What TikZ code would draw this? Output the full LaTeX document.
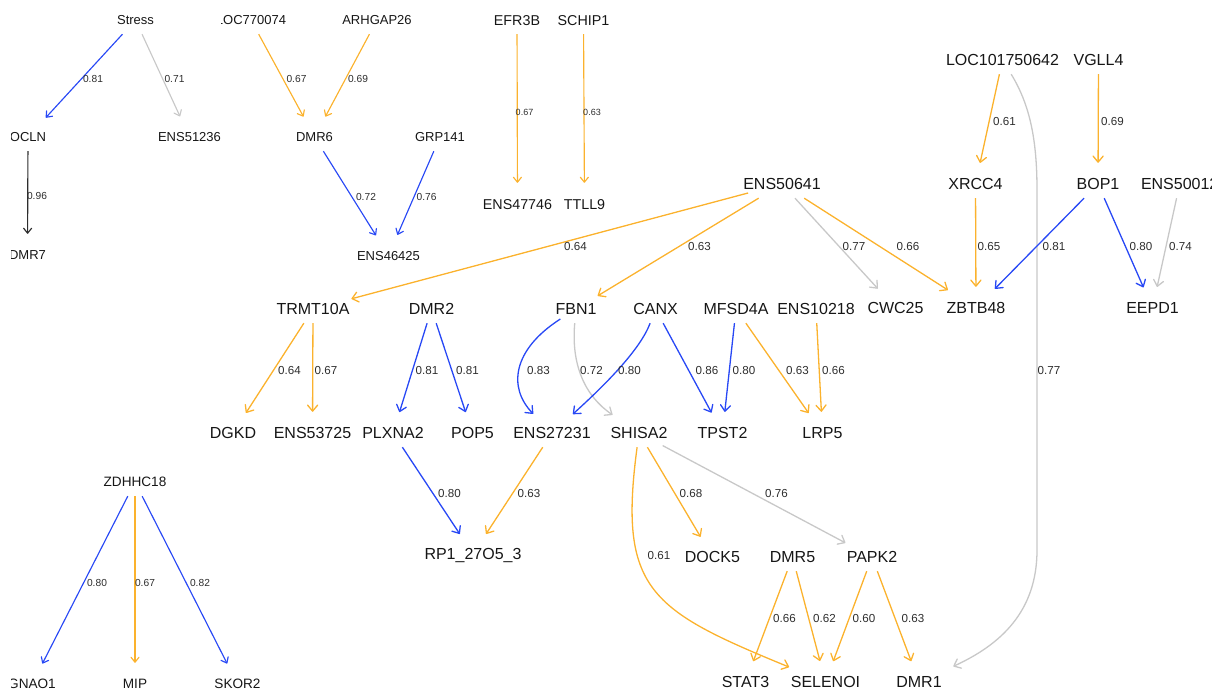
\documentclass[tikz,border=0pt]{standalone}
\usepackage{fontspec}
\setmainfont{Liberation Sans}
\usetikzlibrary{arrows.meta}

\definecolor{eorange}{RGB}{251,178,45}
\definecolor{eblue}{RGB}{40,72,245}
\definecolor{egray}{RGB}{200,200,200}
\definecolor{edark}{RGB}{45,45,45}
\definecolor{txt}{RGB}{22,22,22}
\definecolor{ltxt}{RGB}{45,45,45}

\tikzset{
  vtx/.style={rectangle, inner xsep=-5pt, inner ysep=0pt, minimum height=28pt,
              text depth=0pt, text=txt},
  big/.style={vtx, text height=11.5pt, font=\fontsize{16}{18}\selectfont},
  mid/.style={vtx, text height=10.3pt, font=\fontsize{14.3}{16}\selectfont},
  sml/.style={vtx, text height=9.4pt, font=\fontsize{13}{15}\selectfont},
  zsm/.style={vtx, text height=9.8pt, font=\fontsize{13.6}{15}\selectfont},
  lab/.style={inner sep=0pt, text=ltxt, font=\fontsize{11.6}{13}\selectfont},
  labs/.style={inner sep=0pt, text=ltxt, font=\fontsize{10.2}{12}\selectfont},
  labxs/.style={inner sep=0pt, text=ltxt, font=\fontsize{9}{11}\selectfont},
  lnk/.style={line width=1.3pt, -{Straight Barb[length=6pt,width=10pt,round]}, shorten >=7pt},
  lnks/.style={line width=1.15pt, -{Straight Barb[length=5pt,width=8pt,round]}, shorten >=7pt},
  orangeln/.style={draw=eorange},
  blueln/.style={draw=eblue},
  grayln/.style={draw=egray},
  darkln/.style={draw=edark},
}

\begin{document}
\begin{tikzpicture}[x=1pt, y=-1pt]
\useasboundingbox (0,0) rectangle (1226,690);

% ---------- nodes cut by the left edge of their panel ----------
\begin{scope}
  \clip (11,0) rectangle (215,690);
  \node[sml] (ocln) at (28,137) {OCLN};
  \node[sml] (dmr7) at (27.5,255) {DMR7};
  \node[zsm] (gnao1) at (32,684) {GNAO1};
\end{scope}
\begin{scope}
  \clip (221,0) rectangle (300,40);
  \node[sml] (loc770074) at (251,20) {LOC770074};
\end{scope}
\begin{scope}
  \clip (1100,150) rectangle (1211,220);
  \node[big] (ens50012) at (1179.7,184) {ENS50012};
\end{scope}

% ---------- small panels ----------
\node[sml] (stress) at (135.5,20) {Stress};
\node[sml] (ens51236) at (189.5,137) {ENS51236};
\node[sml] (arhgap26) at (377,20) {ARHGAP26};
\node[sml] (dmr6) at (314.5,137) {DMR6};
\node[sml] (grp141) at (440,137) {GRP141};
\node[sml] (ens46425) at (388.5,255.5) {ENS46425};

\node[mid] (efr3b) at (517,20) {EFR3B};
\node[mid] (schip1) at (583.5,20) {SCHIP1};
\node[mid] (ens47746) at (517.5,204) {ENS47746};
\node[mid] (ttll9) at (584.5,204) {TTLL9};

\node[zsm] (zdhhc18) at (135,482) {ZDHHC18};
\node[zsm] (mip) at (135,684) {MIP};
\node[zsm] (skor2) at (237.5,684) {SKOR2};

% ---------- main network ----------
\node[big] (loc101750642) at (1002.5,60) {LOC101750642};
\node[big] (vgll4) at (1098.5,60) {VGLL4};
\node[big] (ens50641) at (782,184) {ENS50641};
\node[big] (xrcc4) at (975.5,184) {XRCC4};
\node[big] (bop1) at (1098,184) {BOP1};

\node[big] (trmt10a) at (313,309) {TRMT10A};
\node[big] (dmr2) at (431.5,309) {DMR2};
\node[big] (fbn1) at (576,309) {FBN1};
\node[big] (canx) at (655.5,309) {CANX};
\node[big] (mfsd4a) at (736,309) {MFSD4A};
\node[big] (ens10218) at (816,309) {ENS10218};
\node[big] (cwc25) at (895.5,308) {CWC25};
\node[big] (zbtb48) at (976,308) {ZBTB48};
\node[big] (eepd1) at (1152.5,308) {EEPD1};

\node[big] (dgkd) at (233,433) {DGKD};
\node[big] (ens53725) at (312.5,433) {ENS53725};
\node[big] (plxna2) at (393,433) {PLXNA2};
\node[big] (pop5) at (472.5,433) {POP5};
\node[big] (ens27231) at (552,433) {ENS27231};
\node[big] (shisa2) at (639,433) {SHISA2};
\node[big] (tpst2) at (722.5,433) {TPST2};
\node[big] (lrp5) at (822.5,433) {LRP5};

\node[big] (rp1) at (473,554) {RP1\_27O5\_3};
\node[big] (dock5) at (712.5,557) {DOCK5};
\node[big] (dmr5) at (792.5,557) {DMR5};
\node[big] (papk2) at (872,557) {PAPK2};

\node[big] (stat3) at (745.5,682) {STAT3};
\node[big] (selenoi) at (825.5,682) {SELENOI};
\node[big] (dmr1) at (919,682) {DMR1};

% ---------- small panel links ----------
\draw[lnks, blueln] (stress) -- (ocln);
\draw[lnks, grayln] (stress) -- (ens51236);
\draw[lnks, darkln] (ocln) -- (dmr7);
\draw[lnks, orangeln] (loc770074) -- (dmr6);
\draw[lnks, orangeln] (arhgap26) -- (dmr6);
\draw[lnks, blueln] (dmr6) -- (ens46425);
\draw[lnks, blueln] (grp141) -- (ens46425);
\draw[lnks, orangeln] (efr3b) -- (ens47746);
\draw[lnks, orangeln] (schip1) -- (ttll9);
\draw[lnks, blueln] (zdhhc18) -- (gnao1);
\draw[lnks, orangeln] (zdhhc18) -- (mip);
\draw[lnks, blueln] (zdhhc18) -- (skor2);

\node[labs] (w1) at (93,79) {0.81};
\node[labs] (w2) at (174.5,79) {0.71};
\node[labs] (w3) at (37,196) {0.96};
\node[labs] (w4) at (296.5,79) {0.67};
\node[labs] (w5) at (358,79) {0.69};
\node[labs] (w6) at (366,197) {0.72};
\node[labs] (w7) at (426.5,197) {0.76};
\node[labxs] (w8) at (524.5,112) {0.67};
\node[labxs] (w9) at (592,112) {0.63};
\node[labs] (w10) at (97,583) {0.80};
\node[labs] (w11) at (145,583) {0.67};
\node[labs] (w12) at (200,583) {0.82};

% ---------- main network links ----------
\draw[lnk, orangeln] (ens50641) -- (trmt10a);
\draw[lnk, orangeln] (ens50641) -- (fbn1);
\draw[lnk, grayln] (ens50641) -- (cwc25);
\draw[lnk, orangeln] (ens50641) -- (zbtb48);
\draw[lnk, orangeln] (loc101750642) -- (xrcc4);
\draw[lnk, grayln, shorten >=18pt] (loc101750642)
   .. controls (1030,105) and (1037,140) .. (1037,190)
   -- (1037,550)
   .. controls (1037,612) and (1000,645) .. (dmr1);
\draw[lnk, orangeln] (vgll4) -- (bop1);
\draw[lnk, orangeln] (xrcc4) -- (zbtb48);
\draw[lnk, blueln] (bop1) -- (zbtb48);
\draw[lnk, blueln] (bop1) -- (eepd1);
\draw[lnk, grayln] (ens50012) -- (eepd1);

\draw[lnk, orangeln] (trmt10a) -- (dgkd);
\draw[lnk, orangeln] (trmt10a) -- (ens53725);
\draw[lnk, blueln] (dmr2) -- (plxna2);
\draw[lnk, blueln] (dmr2) -- (pop5);
\draw[lnk, blueln] (fbn1) .. controls (512,350) and (508,388) .. (ens27231);
\draw[lnk, grayln] (fbn1) .. controls (571,365) and (585,396) .. (shisa2);
\draw[lnk, blueln] (canx) .. controls (640,350) and (605,385) .. (ens27231);
\draw[lnk, blueln] (canx) -- (tpst2);
\draw[lnk, blueln] (mfsd4a) -- (tpst2);
\draw[lnk, orangeln] (mfsd4a) -- (lrp5);
\draw[lnk, orangeln] (ens10218) -- (lrp5);

\draw[lnk, blueln] (plxna2) -- (rp1);
\draw[lnk, orangeln] (ens27231) -- (rp1);
\draw[lnk, orangeln] (shisa2) .. controls (618,590) and (650,610) .. (selenoi);
\draw[lnk, orangeln] (shisa2) -- (dock5);
\draw[lnk, grayln] (shisa2) -- (papk2);
\draw[lnk, orangeln] (dmr5) -- (stat3);
\draw[lnk, orangeln] (dmr5) -- (selenoi);
\draw[lnk, orangeln] (papk2) -- (selenoi);
\draw[lnk, orangeln] (papk2) -- (dmr1);

\node[lab] (m1) at (575.5,247) {0.64};
\node[lab] (m2) at (699.5,247) {0.63};
\node[lab] (m3) at (854,247) {0.77};
\node[lab] (m4) at (908,247) {0.66};
\node[lab] (m5) at (1004.5,122) {0.61};
\node[lab] (m6) at (1049,371) {0.77};
\node[lab] (m7) at (1112.5,122) {0.69};
\node[lab] (m8) at (989,247) {0.65};
\node[lab] (m9) at (1054,247) {0.81};
\node[lab] (m10) at (1141,247) {0.80};
\node[lab] (m11) at (1180.5,247) {0.74};
\node[lab] (m12) at (289.5,371) {0.64};
\node[lab] (m13) at (326,371) {0.67};
\node[lab] (m14) at (427,371) {0.81};
\node[lab] (m15) at (467.5,371) {0.81};
\node[lab] (m16) at (538.5,371) {0.83};
\node[lab] (m17) at (591.5,371) {0.72};
\node[lab] (m18) at (629.5,371) {0.80};
\node[lab] (m19) at (707,371) {0.86};
\node[lab] (m20) at (744,371) {0.80};
\node[lab] (m21) at (797.5,371) {0.63};
\node[lab] (m22) at (833.5,371) {0.66};
\node[lab] (m23) at (449.5,494) {0.80};
\node[lab] (m24) at (529,494) {0.63};
\node[lab] (m25) at (659,556) {0.61};
\node[lab] (m26) at (691,494) {0.68};
\node[lab] (m27) at (776.5,494) {0.76};
\node[lab] (m28) at (784.5,619) {0.66};
\node[lab] (m29) at (824.5,619) {0.62};
\node[lab] (m30) at (864,619) {0.60};
\node[lab] (m31) at (913,619) {0.63};
\end{tikzpicture}
\end{document}
